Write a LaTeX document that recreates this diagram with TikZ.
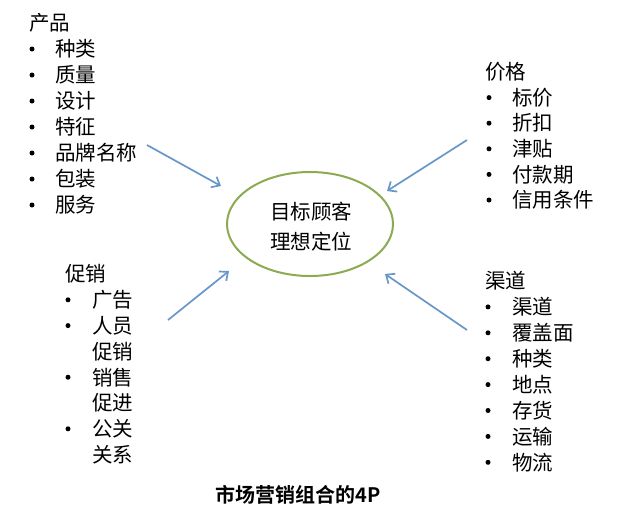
\documentclass[tikz,border=0pt]{standalone}
\usepackage{fontspec}
\setmainfont{Noto Sans CJK SC}
\newfontfamily\cjkb{Noto Sans CJK SC Bold}
\usetikzlibrary{arrows.meta,shapes.geometric}
\definecolor{arrowblue}{RGB}{104,150,200}
\definecolor{ringgreen}{RGB}{140,170,80}
\begin{document}
\begin{tikzpicture}[x=1pt,y=-1pt,
  txt/.style={anchor=west,inner sep=0pt,font=\fontsize{20.5}{20.5}\selectfont},
  bul/.style={circle,fill=black,inner sep=0pt,minimum size=5pt},
  arr/.style={draw=arrowblue,line width=1.7pt,-{Straight Barb[length=7pt,width=12pt]}}]
\useasboundingbox (0,0) rectangle (628,531);
% centre
\node[ellipse,draw=ringgreen,line width=2pt,minimum width=166pt,minimum height=104pt,inner sep=0pt] (c) at (310,224) {};
\node[inner sep=0pt,align=center,font=\fontsize{20.5}{30}\selectfont] (ct) at (311,227) {目标顾客\\理想定位};
% product
\node[txt] (p0) at (29,23) {产品};
\foreach \t [count=\i] in {种类,质量,设计,特征,品牌名称,包装,服务}{
  \node[bul] (pb\i) at (32,{23+\i*26}) {};
  \node[txt] (p\i) at (55,{23+\i*26}) {\t};
}
% price
\node[txt] (q0) at (485,72) {价格};
\foreach \t [count=\i] in {标价,折扣,津贴,付款期,信用条件}{
  \node[bul] (qb\i) at (489,{72+\i*25.6}) {};
  \node[txt] (q\i) at (512,{72+\i*25.6}) {\t};
}
% promotion
\node[txt] (r0) at (65,274) {促销};
\foreach \t [count=\i] in {广告,人员,促销,销售,促进,公关,关系}{
  \node[txt] (r\i) at (92,{274+\i*25.8}) {\t};
}
\foreach \i in {1,2,4,6}{
  \node[bul] (rb\i) at (68,{274+\i*25.8}) {};
}
% place
\node[txt] (s0) at (485,281) {渠道};
\foreach \t [count=\i] in {渠道,覆盖面,种类,地点,存货,运输,物流}{
  \node[bul] (sb\i) at (488,{281+\i*25.9}) {};
  \node[txt] (s\i) at (512,{281+\i*25.9}) {\t};
}
% title
\node[inner sep=0pt,font=\fontsize{20}{20}\cjkb] (title) at (298,495) {市场营销组合的4P};
% arrows
\coordinate (a1s) at (147,145); \coordinate (a1e) at (221,186);
\coordinate (a2s) at (467,140); \coordinate (a2e) at (387,191);
\coordinate (a3s) at (168,320); \coordinate (a3e) at (229,271);
\coordinate (a4s) at (467,330); \coordinate (a4e) at (385,274);
\draw[arr] (a1s) -- (a1e);
\draw[arr] (a2s) -- (a2e);
\draw[arr] (a3s) -- (a3e);
\draw[arr] (a4s) -- (a4e);
\end{tikzpicture}
\end{document}
